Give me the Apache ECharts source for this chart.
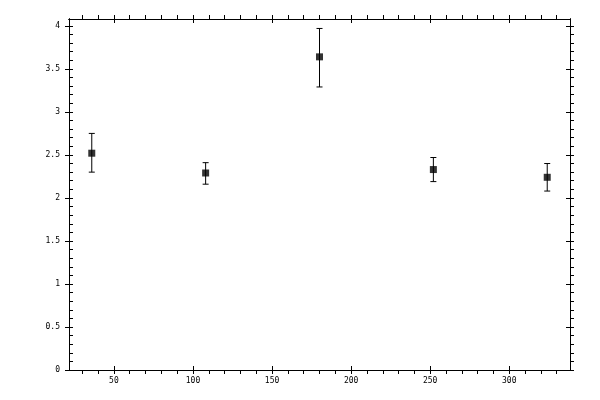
<!DOCTYPE html>
<html>
<head>
<meta charset="utf-8">
<script src="https://cdn.jsdelivr.net/npm/echarts@6/dist/echarts.min.js"></script>
<style>html,body{margin:0;padding:0;background:#fff}#c{width:600px;height:400px}</style>
</head>
<body>
<div id="c"></div>
<script>
const xValues = [36, 108, 180, 252, 324];
const yValues = [2.52, 2.29, 3.64, 2.33, 2.24];
const yLower = [2.30, 2.16, 3.29, 2.19, 2.08];
const yUpper = [2.75, 2.41, 3.97, 2.47, 2.40];
const xMajorTicks = [50, 100, 150, 200, 250, 300];
const xMinorTicks = [30, 40, 60, 70, 80, 90, 110, 120, 130, 140, 160, 170, 180, 190, 210, 220, 230, 240, 260, 270, 280, 290, 310, 320, 330];
const yMajorTicks = [0, 0.5, 1, 1.5, 2, 2.5, 3, 3.5, 4];
const yMinorTicks = [0.1,0.2,0.3,0.4,0.6,0.7,0.8,0.9,1.1,1.2,1.3,1.4,1.6,1.7,1.8,1.9,2.1,2.2,2.3,2.4,2.6,2.7,2.8,2.9,3.1,3.2,3.3,3.4,3.6,3.7,3.8,3.9];
const xMin = 21.6, xMax = 338.4, yMin = 0, yMax = 4.08;

const chart = echarts.init(document.getElementById('c'), null, {renderer: 'canvas'});
const lineStyle = {color: '#000', width: 1};
const labelFont = {color: '#000', fontFamily: 'DejaVu Sans Mono', fontSize: 8};

function mkAxis(kind, position, opts) {
  const base = {
    type: 'value', gridIndex: 0, position: position,
    min: kind === 'x' ? xMin : yMin, max: kind === 'x' ? xMax : yMax,
    splitLine: {show: false},
    axisLine: {show: true, onZero: false, lineStyle: lineStyle},
    axisTick: {show: false},
    axisLabel: {show: false},
    silent: true
  };
  return Object.assign(base, opts);
}
function ticks(values, inside, length) {
  return {show: true, inside: inside, length: length, customValues: values, lineStyle: lineStyle};
}

const xAxes = [
  mkAxis('x', 'bottom', {axisTick: ticks(xMajorTicks, false, 4),
    axisLabel: Object.assign({show: true, margin: 7, customValues: xMajorTicks}, labelFont)}),
  mkAxis('x', 'bottom', {axisTick: ticks(xMajorTicks, true, 4)}),
  mkAxis('x', 'bottom', {axisTick: ticks(xMinorTicks, false, 4)}),
  mkAxis('x', 'top', {axisTick: ticks(xMajorTicks, false, 4)}),
  mkAxis('x', 'top', {axisTick: ticks(xMajorTicks, true, 4)}),
  mkAxis('x', 'top', {axisTick: ticks(xMinorTicks, false, 4)})
];
const yAxes = [
  mkAxis('y', 'left', {axisTick: ticks(yMajorTicks, false, 4),
    axisLabel: Object.assign({show: true, margin: 9, customValues: yMajorTicks}, labelFont)}),
  mkAxis('y', 'left', {axisTick: ticks(yMajorTicks, true, 4)}),
  mkAxis('y', 'left', {axisTick: ticks(yMinorTicks, true, 4)}),
  mkAxis('y', 'right', {axisTick: ticks(yMajorTicks, false, 4)}),
  mkAxis('y', 'right', {axisTick: ticks(yMajorTicks, true, 4)}),
  mkAxis('y', 'right', {axisTick: ticks(yMinorTicks, false, 4)})
];

const errData = xValues.map((x, i) => [x, yLower[i], yUpper[i]]);
const ptData = xValues.map((x, i) => [x, yValues[i]]);

chart.setOption({
  animation: false,
  backgroundColor: '#fff',
  grid: {left: 69, right: 30, top: 19, bottom: 30, containLabel: false},
  xAxis: xAxes,
  yAxis: yAxes,
  series: [
    {
      type: 'custom', xAxisIndex: 0, yAxisIndex: 0, z: 2,
      data: errData,
      encode: {x: 0, y: [1, 2]},
      renderItem: function (params, api) {
        const x = api.value(0);
        const lo = api.coord([x, api.value(1)]);
        const hi = api.coord([x, api.value(2)]);
        const w = 3;
        const st = {stroke: '#000', lineWidth: 1};
        return {type: 'group', children: [
          {type: 'line', shape: {x1: lo[0], y1: lo[1], x2: hi[0], y2: hi[1]}, style: st},
          {type: 'line', shape: {x1: lo[0] - w, y1: lo[1], x2: lo[0] + w, y2: lo[1]}, style: st},
          {type: 'line', shape: {x1: hi[0] - w, y1: hi[1], x2: hi[0] + w, y2: hi[1]}, style: st}
        ]};
      }
    },
    {
      type: 'scatter', xAxisIndex: 0, yAxisIndex: 0, z: 3,
      symbol: 'rect', symbolSize: 7,
      itemStyle: {color: '#000'},
      data: ptData
    }
  ]
});
</script>
</body>
</html>
